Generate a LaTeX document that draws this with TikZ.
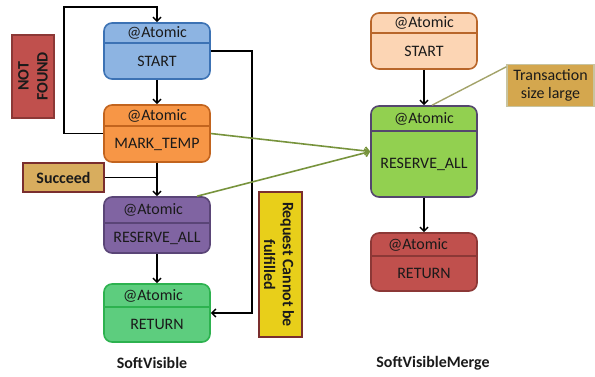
\documentclass[tikz,border=0pt]{standalone}
\usepackage{fontspec}
\setmainfont{Carlito}
\usetikzlibrary{arrows.meta,calc}
\definecolor{blueF}{HTML}{8DB4E2}\definecolor{blueD}{HTML}{3C72B4}
\definecolor{orgF}{HTML}{F79646}\definecolor{orgD}{HTML}{C2641E}
\definecolor{purF}{HTML}{8064A2}\definecolor{purD}{HTML}{5A4577}
\definecolor{grnF}{HTML}{5DCD7E}\definecolor{grnD}{HTML}{2DB24F}
\definecolor{pchF}{HTML}{FCD5B4}\definecolor{pchD}{HTML}{B8662A}
\definecolor{limF}{HTML}{92D050}\definecolor{limD}{HTML}{54466E}
\definecolor{redF}{HTML}{C0504D}\definecolor{redD}{HTML}{8C3836}
\definecolor{tanF}{HTML}{D8AD5E}\definecolor{tanD}{HTML}{7A2E2E}
\definecolor{yelF}{HTML}{E8CF1A}\definecolor{trF}{HTML}{D4A74E}\definecolor{trD}{HTML}{C8C4A0}
\definecolor{olv}{HTML}{77933C}\definecolor{olv2}{HTML}{A3A36A}
\definecolor{txt}{HTML}{1A1A1A}
\begin{document}
\begin{tikzpicture}[x=1bp,y=-1bp,
  every node/.style={font=\fontsize{16}{18.5}\selectfont, inner sep=0pt, text=txt},
  abox/.style={draw, rounded corners=8bp, line width=1.6bp, minimum width=106bp},
  lbl/.style={font=\fontsize{16}{19}\selectfont\bfseries, align=center},
  arr/.style={line width=1.5bp, -{Straight Barb[length=4bp,width=8bp,line width=1.5bp]}},
  ln/.style={line width=1.5bp},
  garr/.style={olv, line width=1.6bp, -{Straight Barb[length=4bp,width=8bp,line width=1.6bp]}}]
\useasboundingbox (0,0) rectangle (595,376);
% left column
\node[abox, fill=blueF, draw=blueD, minimum height=56bp] (s1) at (157,51) {};
\draw[blueD, line width=1.6bp] (104,43) -- (210,43);
\node (s1t) at (157,33) {@Atomic};
\node (s1c) at (157,61) {START};
\node[abox, fill=orgF, draw=orgD, minimum height=57bp] (mt) at (157,133.5) {};
\draw[orgD, line width=1.6bp] (104,126) -- (210,126);
\node (mtt) at (157,115.5) {@Atomic};
\node (mtc) at (157,144) {MARK\_TEMP};
\node[abox, fill=purF, draw=purD, minimum height=56bp] (p) at (157,225) {};
\draw[purD, line width=1.6bp] (104,223) -- (210,223);
\node (pt) at (153,210) {@Atomic};
\node (pc) at (157,238) {RESERVE\_ALL};
\node[abox, fill=grnF, draw=grnD, minimum height=58bp] (r1) at (157,313) {};
\draw[grnD, line width=1.6bp] (104,307) -- (210,307);
\node (r1t) at (153,295.5) {@Atomic};
\node (r1c) at (157,324.5) {RETURN};
% side labels
\node[lbl, draw=redD, fill=redF, line width=1.4bp, minimum width=42bp, minimum height=83bp] (nf) at (33,76.5) {};
\node[lbl, rotate=90] (nft) at (33,76.5) {NOT\\FOUND};
\node[lbl, draw=tanD, fill=tanF, line width=1.4bp, minimum width=81bp, minimum height=29bp] (sc) at (63.5,177.5) {Succeed};
\node[lbl, draw=tanD, fill=yelF, line width=1.4bp, minimum width=43bp, minimum height=145bp] (rq) at (280.5,264.5) {};
\node[lbl, rotate=-90] (rqt) at (279,264.5) {Request Cannot be\\fulfilled};
\node[lbl] (sv) at (152,363) {SoftVisible};
% right column
\node[abox, fill=pchF, draw=pchD, minimum height=56bp] (s2) at (424,41) {};
\draw[pchD, line width=1.6bp] (371,33) -- (477,33);
\node (s2t) at (424,23) {@Atomic};
\node (s2c) at (424,51) {START};
\node[abox, fill=limF, draw=limD, minimum height=91bp] (g) at (424,151.5) {};
\draw[limD, line width=1.6bp] (371,131) -- (477,131);
\node (gt) at (424,118.5) {@Atomic};
\node (gc) at (424,164) {RESERVE\_ALL};
\node[abox, fill=redF, draw=redD, minimum height=58bp] (r2) at (424,262) {};
\draw[redD, line width=1.6bp] (371,256) -- (477,256);
\node (r2t) at (418,244.5) {@Atomic};
\node (r2c) at (424,273.5) {RETURN};
\node[draw=trD, fill=trF, line width=1.4bp, minimum width=87bp, minimum height=42bp, align=center] (tr) at (550.5,85.5) {Transaction\\size large};
\node[lbl] (svm) at (433,363) {SoftVisibleMerge};
% connectors
\coordinate (lp) at (64,7);
\coordinate (rb) at (252,313);
\draw[arr] (mt.west) -| (lp) -| (s1.north);
\draw[arr] (s1.south) -- (mt.north);
\draw[arr] (mt.south) -- (p.north);
\draw[ln] (sc.east) -- (sc.east -| mt.south);
\draw[arr] (s1.east) -| (rb) -- (r1.east);
\draw[arr] (p.south) -- (r1.north);
\draw[garr] (mt.east) -- (g.west);
\draw[garr] ([xshift=40bp]p.north) -- (g.west);
\draw[arr] (s2.south) -- (g.north);
\draw[arr] (g.south) -- (r2.north);
\draw[olv2, line width=1.4bp] ([yshift=-3bp]tr.north west) -- ([xshift=8bp]g.north);
\end{tikzpicture}
\end{document}
